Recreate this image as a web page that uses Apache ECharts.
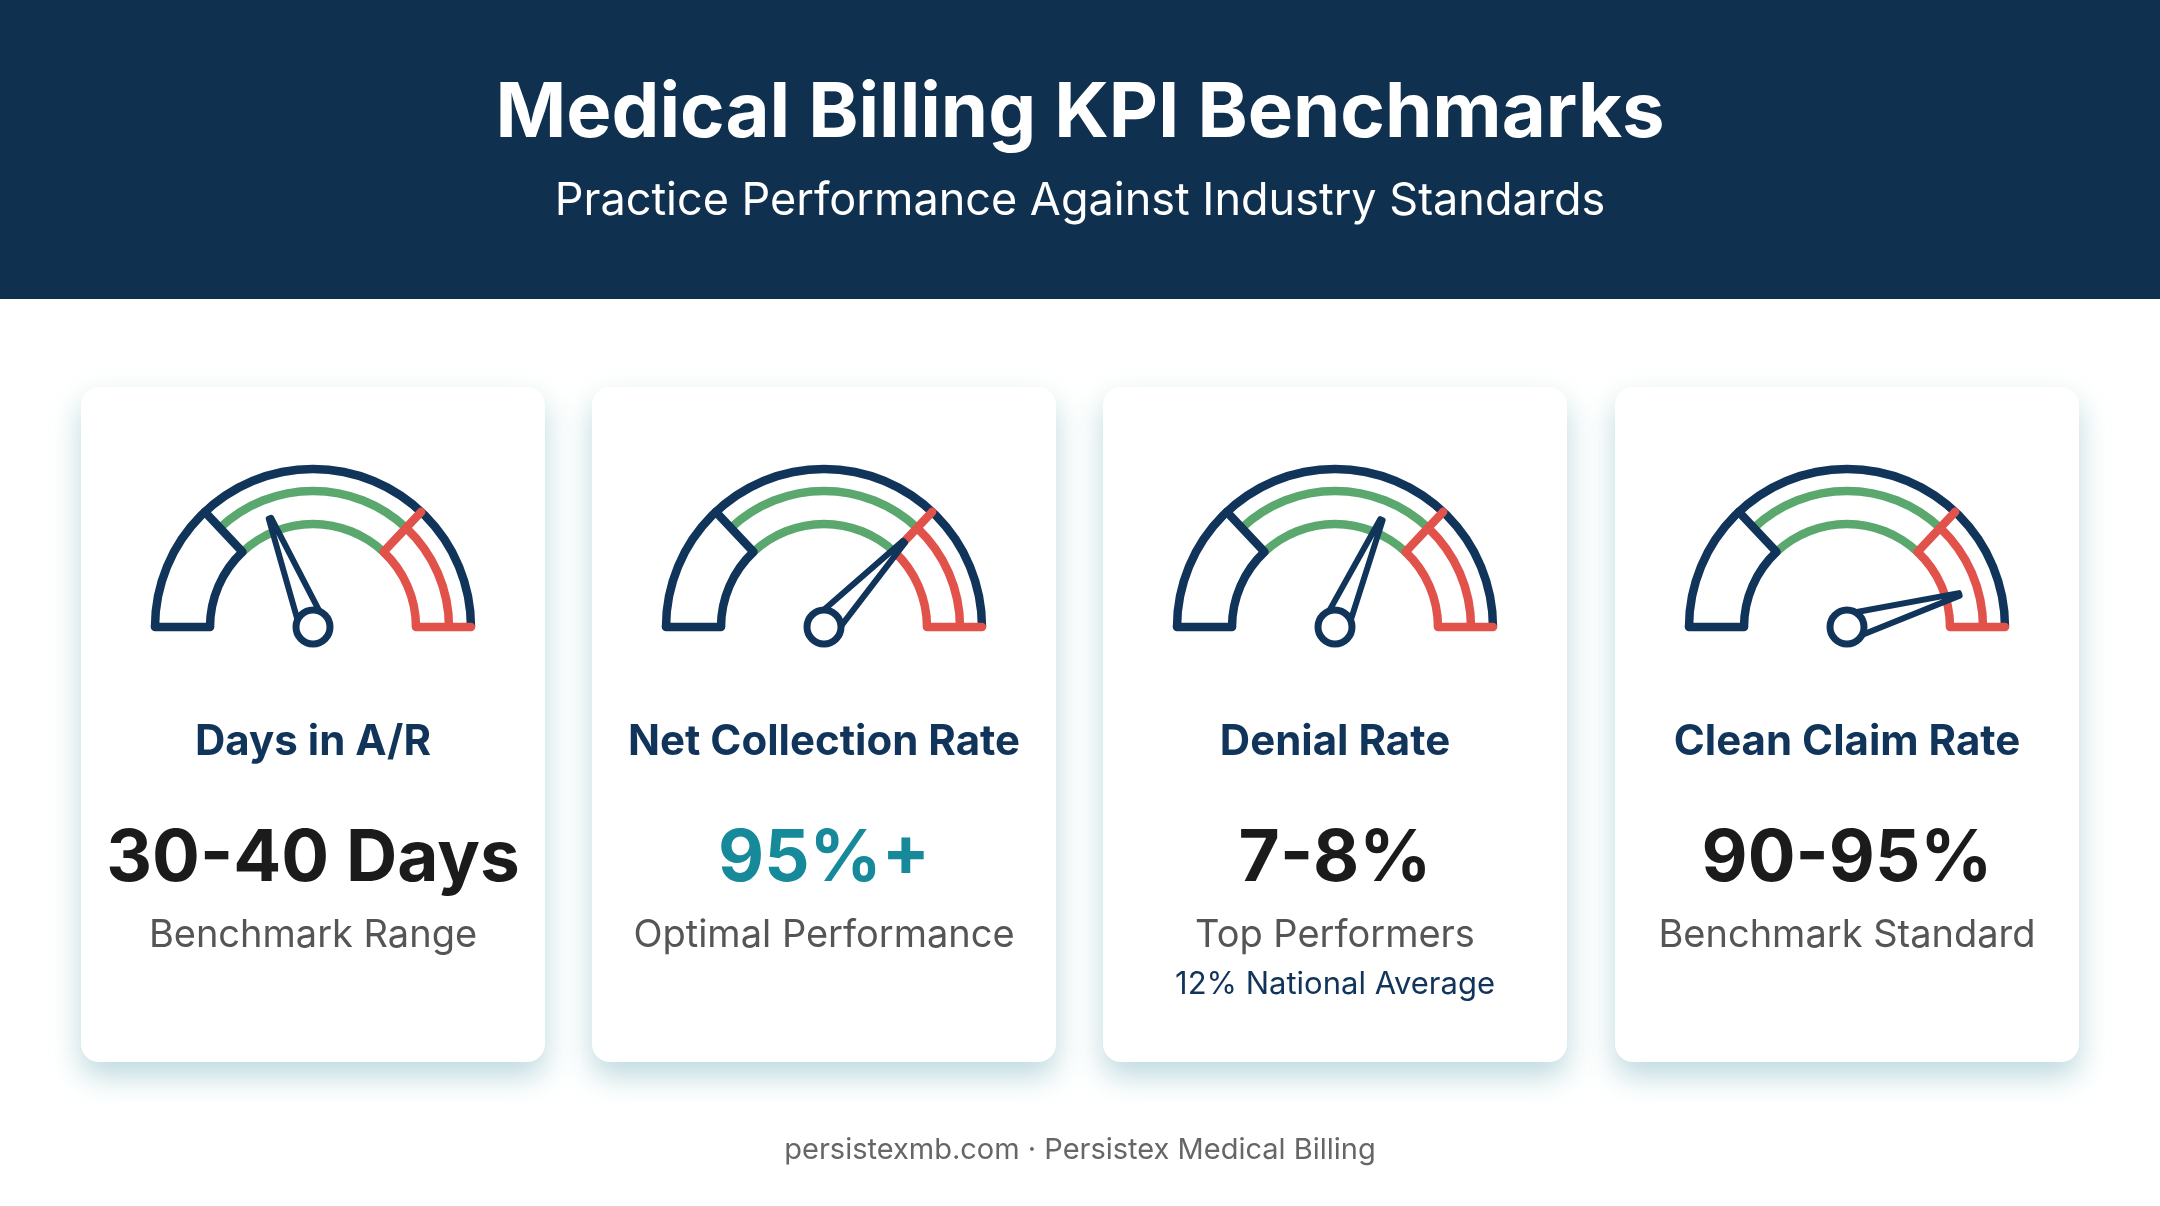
<!DOCTYPE html>
<html><head><meta charset="utf-8">
<script src="https://cdn.jsdelivr.net/npm/echarts@6/dist/echarts.min.js"></script>
<style>html,body{margin:0;padding:0;background:#fff}#c{width:2160px;height:1206px}</style>
</head><body><div id="c"></div>
<script>
const kpiNames = ['Days in A/R', 'Net Collection Rate', 'Denial Rate', 'Clean Claim Rate'];
const kpiValues = ['30-40 Days', '95%+', '7-8%', '90-95%'];
const kpiSubs = ['Benchmark Range', 'Optimal Performance', 'Top Performers', 'Benchmark Standard'];
const kpiNotes = ['', '', '12% National Average', ''];
const needleValues = [38, 74, 63, 91];
const zoneBounds = [0.26, 0.74];

const NAVY = '#11345a', GREEN = '#5aa86e', RED = '#e0524a', TEAL = '#16899a';
const FONT = 'Inter';
const LW = 8.5;
const chart = echarts.init(document.getElementById('c'));
const cardX = [81, 592, 1103, 1615], cardW = 464, cardY = 387, cardH = 675;
const cy = 627;
const series = [];
const graphic = [
  {type:'rect', shape:{x:0,y:0,width:2160,height:299}, style:{fill:'#10304f'}, z:0},
  {type:'text', x:1080, y:114, style:{text:'Medical Billing KPI Benchmarks', fill:'#fff', font:'bold 76px '+FONT, textAlign:'center', textVerticalAlign:'middle'}},
  {type:'text', x:1080, y:201, style:{text:'Practice Performance Against Industry Standards', fill:'#fff', font:'45px '+FONT, textAlign:'center', textVerticalAlign:'middle'}},
  {type:'text', x:1080, y:1150, style:{text:'persistexmb.com · Persistex Medical Billing', fill:'#666', font:'29px '+FONT, textAlign:'center', textVerticalAlign:'middle'}}
];
kpiNames.forEach((name, i) => {
  const x = cardX[i], cx = x + cardW / 2;
  graphic.push({type:'rect', shape:{x:x, y:cardY, width:cardW, height:cardH, r:18}, z:-1,
    style:{fill:'#fff', shadowBlur:30, shadowOffsetY:14, shadowColor:'rgba(90,160,170,0.4)'}});
  graphic.push({type:'text', x:cx, y:742, z:5, style:{text:name, fill:NAVY, font:'bold 42px '+FONT, textAlign:'center', textVerticalAlign:'middle'}});
  graphic.push({type:'text', x:cx, y:860, z:5, style:{text:kpiValues[i], fill:i===1?TEAL:'#1b1b1b', font:'bold 71px '+FONT, textAlign:'center', textVerticalAlign:'middle'}});
  graphic.push({type:'text', x:cx, y:936, z:5, style:{text:kpiSubs[i], fill:'#555', font:'38px '+FONT, textAlign:'center', textVerticalAlign:'middle'}});
  if (kpiNotes[i]) graphic.push({type:'text', x:cx, y:985, z:5, style:{text:kpiNotes[i], fill:NAVY, font:'31px '+FONT, textAlign:'center', textVerticalAlign:'middle'}});
  const base = {type:'gauge', center:[cx, cy], min:0, max:100, startAngle:180, endAngle:0,
    axisTick:{show:false}, axisLabel:{show:false}, pointer:{show:false}, anchor:{show:false},
    detail:{show:false}, title:{show:false}, splitLine:{show:false}, data:[], silent:true, z:3};
  const ring = (r, colors) => Object.assign({}, base, {radius:r + LW / 2,
    axisLine:{show:true, roundCap:false, lineStyle:{width:LW, color:colors}}});
  series.push(ring(158, [[1, NAVY]]));
  series.push(ring(136, [[zoneBounds[0], 'rgba(0,0,0,0)'], [zoneBounds[1], GREEN], [1, RED]]));
  series.push(ring(103, [[zoneBounds[0], NAVY], [zoneBounds[1], GREEN], [1, RED]]));
  const ticks = (sa, ea) => Object.assign({}, base, {radius:158, startAngle:sa, endAngle:ea, splitNumber:1,
    axisLine:{show:false, lineStyle:{width:1, color:[[0.5, NAVY], [1, RED]]}},
    splitLine:{show:true, length:55, distance:-1, lineStyle:{width:LW, color:'auto', cap:'round'}}});
  series.push(ticks(180, 0));
  series.push(ticks(180 - zoneBounds[0] * 180, 180 - zoneBounds[1] * 180));
  series.push(Object.assign({}, base, {radius:158, z:6,
    axisLine:{show:false, lineStyle:{width:1}},
    pointer:{show:true, icon:'path://M4.5,0 L5.5,0 L10,100 L0,100 Z', length:'74%', width:26, keepAspect:false,
      itemStyle:{color:'#fff', borderColor:NAVY, borderWidth:6, borderJoin:'round'}},
    anchor:{show:true, showAbove:true, size:34, itemStyle:{color:'#fff', borderColor:NAVY, borderWidth:7}},
    data:[{value:needleValues[i]}]}));
});
chart.setOption({backgroundColor:'#fff', animation:false, series:series, graphic:graphic});
</script></body></html>
